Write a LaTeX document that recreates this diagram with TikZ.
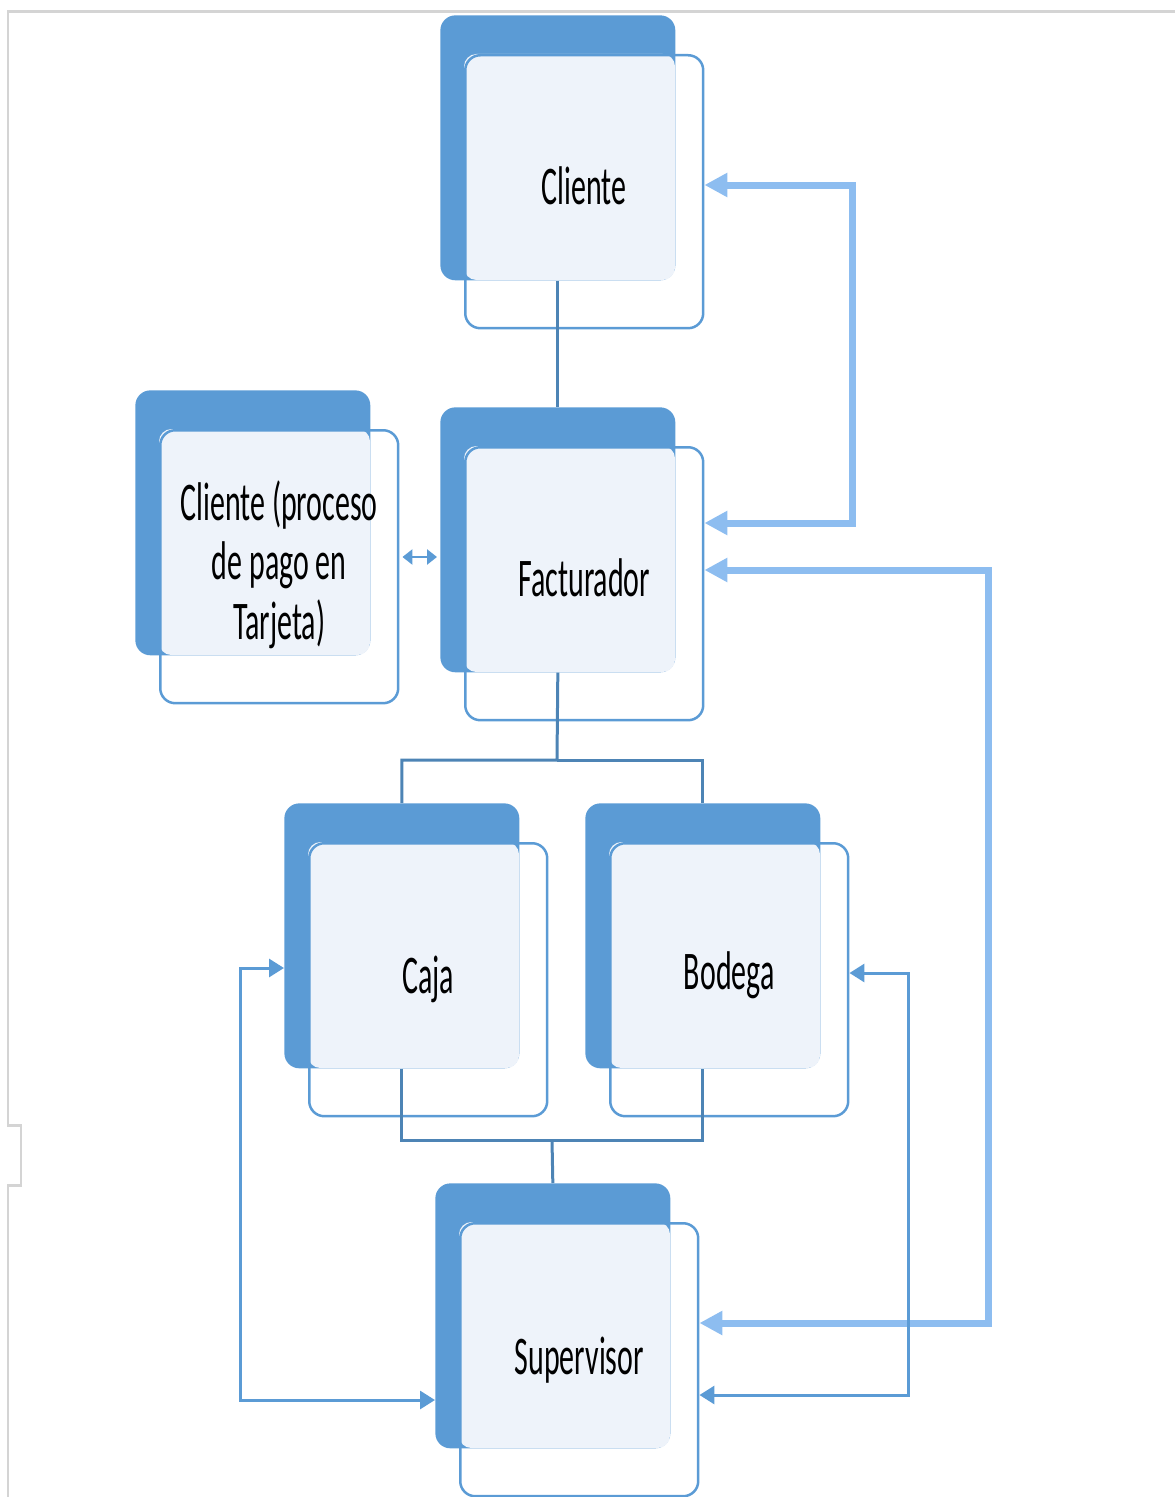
\documentclass[tikz,border=0pt]{standalone}
\usepackage{fontspec}
\setmainfont{Carlito}
\usetikzlibrary{arrows.meta}
\definecolor{boxblue}{HTML}{5B9BD5}
\definecolor{paleblue}{HTML}{EEF3FA}
\definecolor{linkblue}{HTML}{8DBDF0}
\definecolor{framegray}{HTML}{D4D4D4}

\begin{document}
\begin{tikzpicture}[x=0.02cm,y=-0.02cm,
  backbox/.style={fill=boxblue, rounded corners=0.3cm, minimum width=4.7cm, minimum height=5.3cm, anchor=north west, inner sep=0pt},
  frontbox/.style={draw=boxblue, line width=0.05cm, rounded corners=0.3cm, minimum width=4.76cm, minimum height=5.46cm, anchor=north west, inner sep=0pt},
  boxtext/.style={xscale=0.55, align=center, text=black, font=\fontsize{31}{34}\selectfont},
  tree/.style={draw=boxblue!85!black, line width=0.06cm},
  biglink/.style={draw=linkblue, line width=0.14cm, {Triangle[length=0.46cm,width=0.46cm]}-{Triangle[length=0.46cm,width=0.46cm]}},
  smalllink/.style={draw=boxblue, line width=0.06cm, {Triangle[length=0.3cm,width=0.36cm]}-{Triangle[length=0.3cm,width=0.36cm]}}]
\useasboundingbox (0,0) rectangle (1175,1497);
\draw[framegray, line width=0.06cm] (1175,12) -- (8,12) -- (8,1125) -- (21,1125) -- (21,1185) -- (8,1185) -- (8,1497);
\foreach \Name/\X/\Y/\Text/\Shift in {cliente/440/15/Cliente/-6, factura/440/407/Facturador/-6, pago/135/390/{Cliente (proceso\\de pago en\\Tarjeta)}/-2, caja/284/803/Caja/0, bodega/585/803/Bodega/-4, super/435/1183/Supervisor/0}
{
    \node[backbox] (\Name) at (\X,\Y) {};
    \fill[paleblue, rounded corners=0.25cm] (\X+24,\Y+39) rectangle (\X+235,\Y+265);
    \node[frontbox] (\Name-f) at (\X+24,\Y+39) {};
    \node[boxtext] at ([yshift=-\Shift*0.02cm]\Name-f.center) {\Text};
}
\coordinate (split) at (557,760);
\coordinate (join) at (552,1140);
\draw[tree] (cliente.south) -- (factura.north);
\draw[tree] (factura.south) -- (split) -| (caja.north);
\draw[tree] (split) -| (bodega.north);
\draw[tree] (caja.south) |- (join) -| (bodega.south);
\draw[tree] (join) -- (super.north);
\draw[draw=boxblue, line width=0.05cm, {Triangle[length=0.2cm,width=0.3cm]}-{Triangle[length=0.2cm,width=0.3cm]}] ([xshift=0.06cm]pago-f.east |- 0,557) -- ([xshift=-0.06cm]factura.west |- 0,557);
\draw[biglink] (cliente-f.east |- 0,185) -| (852,523) -- (factura-f.east |- 0,523);
\draw[biglink] (super-f.east |- 0,1323) -| (988,570) -- (factura-f.east |- 0,570);
\draw[smalllink] (caja.west |- 0,968) -| (240,1400) -- (super.west |- 0,1400);
\draw[smalllink] (bodega-f.east |- 0,973) -| (908,1395) -- (super-f.east |- 0,1395);
\end{tikzpicture}
\end{document}
